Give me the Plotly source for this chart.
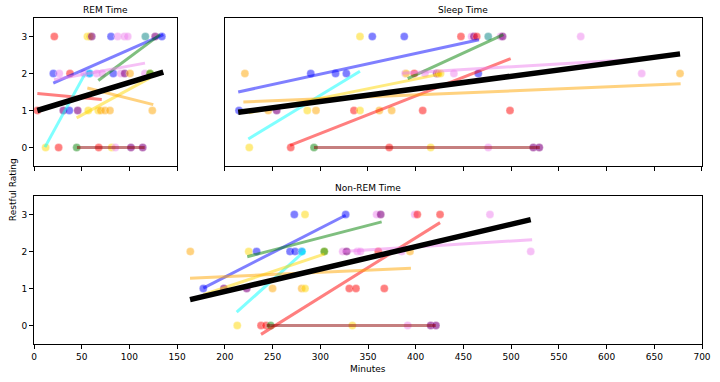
import plotly.graph_objects as go

# ---------------- data ----------------
# REM Time panel points
rem_minutes = [21.3, 56, 58.5, 60.5, 80.7, 87.7, 94.7, 98.2, 116.7, 127, 134,
               20.3, 26.5, 37.7, 52.7, 58, 58.5, 65.7, 71.4, 83.1, 91, 95, 100.6, 116.3, 121.6, 121.6,
               3.5, 30.7, 37, 45.8, 56.9, 67.4, 69.9, 74.4, 79.6, 124,
               12.2, 25.8, 44.7, 67.8, 81.4, 85.2, 101.6, 113.9]
rem_rating = [3, 3, 3, 3, 3, 3, 3, 3, 3, 3, 3,
              2, 2, 2, 2, 2, 2, 2, 2, 2, 2, 2, 2, 2, 2, 2,
              1, 1, 1, 1, 1, 1, 1, 1, 1, 1,
              0, 0, 0, 0, 0, 0, 0, 0]
rem_color = ["red", "gold", "gold", "purple", "blue", "violet", "violet", "violet", "teal", "purple", "blue",
             "blue", "violet", "red", "violet", "blue", "cyan", "violet", "violet", "blue", "violet", "purple", "orange", "violet", "gold", "green",
             "red", "purple", "blue", "purple", "gold", "gold", "orange", "orange", "orange", "orange",
             "gold", "red", "green", "red", "gold", "violet", "purple", "purple"]

# Sleep Time panel points
sleep_minutes = [341.6, 354.5, 388, 447.4, 458.6, 461, 463.9, 476, 489, 491, 572.9,
                 221, 290, 316, 327.3, 389, 390, 398.5, 409.7, 422, 423.7, 426, 440, 465.6, 636.8, 677,
                 214.8, 245.5, 254.3, 286.4, 295.5, 335.3, 341.6, 361.9, 374.8, 407.3, 498.8,
                 225.6, 269, 293.4, 372.3, 415.7, 476, 523.2, 529.5]
sleep_rating = [3, 3, 3, 3, 3, 3, 3, 3, 3, 3, 3,
                2, 2, 2, 2, 2, 2, 2, 2, 2, 2, 2, 2, 2, 2, 2,
                1, 1, 1, 1, 1, 1, 1, 1, 1, 1, 1,
                0, 0, 0, 0, 0, 0, 0, 0]
sleep_color = ["gold", "blue", "blue", "red", "violet", "purple", "red", "teal", "violet", "purple", "violet",
               "orange", "blue", "blue", "blue", "violet", "gold", "red", "violet", "purple", "orange", "gold", "violet", "blue", "violet", "orange",
               "blue", "orange", "purple", "gold", "orange", "red", "gold", "orange", "orange", "red", "red",
               "gold", "red", "green", "red", "gold", "violet", "purple", "purple"]

# Non-REM Time panel points
nrem_minutes = [272.8, 284, 326.6, 359, 363.3, 399, 401.7, 425.5, 477.8,
                163.8, 225, 233.3, 268.3, 273.5, 280.5, 281, 304.2, 304.2, 323.5, 327.6, 338.8, 342, 360.8, 385.3, 394, 520.5,
                177.4, 199, 222.9, 250, 280.5, 284, 330.4, 337.4, 367.1,
                213, 237.9, 243.1, 248, 333.6, 391.6, 415.7, 421.2]
nrem_rating = [3, 3, 3, 3, 3, 3, 3, 3, 3,
               2, 2, 2, 2, 2, 2, 2, 2, 2, 2, 2, 2, 2, 2, 2, 2, 2,
               1, 1, 1, 1, 1, 1, 1, 1, 1,
               0, 0, 0, 0, 0, 0, 0, 0]
nrem_color = ["blue", "gold", "blue", "violet", "purple", "violet", "red", "red", "violet",
              "orange", "gold", "blue", "blue", "blue", "blue", "cyan", "gold", "green", "violet", "purple", "violet", "violet", "red", "violet", "orange", "violet",
              "blue", "purple", "purple", "orange", "orange", "gold", "red", "red", "red",
              "gold", "red", "red", "green", "gold", "violet", "purple", "purple"]

# Fitted lines (endpoints)
fit_color = ["red", "blue", "cyan", "gold", "orange", "green", "violet", "darkred", "black"]
rem_fit_x0 = [3.5, 20.2, 11.5, 44.7, 55.9, 67.4, 21, 45, 3.5]
rem_fit_x1 = [71, 135.5, 53.4, 121.6, 125, 132, 116.3, 116, 135.5]
rem_fit_y0 = [1.46, 1.74, 0.01, 0.80, 1.61, 1.81, 1.83, 0, 1.0]
rem_fit_y1 = [1.30, 3.05, 1.99, 1.88, 1.16, 3.05, 2.28, 0, 2.04]

sleep_fit_x0 = [268.3, 214, 224.6, 225, 219.4, 391.6, 385.6, 293.4, 214]
sleep_fit_x1 = [499.5, 466.3, 341.6, 427, 677.6, 491.8, 637, 530, 677]
sleep_fit_y0 = [0.06, 1.50, 0.23, 0.94, 1.23, 1.86, 2.01, 0, 0.95]
sleep_fit_y1 = [2.40, 2.91, 2.06, 1.99, 1.72, 3.05, 2.39, 0, 2.53]

nrem_fit_x0 = [237.9, 177.4, 212.4, 177.4, 163.5, 223.5, 323, 243.8, 163.5]
nrem_fit_x1 = [425.5, 326.6, 284, 304.2, 395, 364.3, 522, 421, 520.5]
nrem_fit_y0 = [-0.24, 1.01, 0.36, 0.83, 1.28, 1.86, 2.0, 0, 0.70]
nrem_fit_y1 = [2.78, 2.98, 2.02, 1.93, 1.55, 2.80, 2.32, 0, 2.86]

panel_titles = ["REM Time", "Sleep Time", "Non-REM Time"]
x_ticks = [0, 50, 100, 150, 200, 250, 300, 350, 400, 450, 500, 550, 600, 650, 700]
y_ticks = [0, 1, 2, 3]

# ---------------- styling ----------------
HEX = {"red": (255, 0, 0), "blue": (0, 0, 255), "cyan": (0, 255, 255), "gold": (255, 215, 0),
       "orange": (255, 165, 0), "green": (0, 128, 0), "violet": (238, 130, 238),
       "darkred": (139, 0, 0), "purple": (128, 0, 128), "teal": (0, 128, 128), "black": (0, 0, 0)}


def rgba(name, a):
    r, g, b = HEX[name]
    return f"rgba({r},{g},{b},{a})"


FONT = "DejaVu Sans"
fig = go.Figure()

panels = [
    ("x", "y", rem_minutes, rem_rating, rem_color, rem_fit_x0, rem_fit_x1, rem_fit_y0, rem_fit_y1),
    ("x2", "y2", sleep_minutes, sleep_rating, sleep_color, sleep_fit_x0, sleep_fit_x1, sleep_fit_y0, sleep_fit_y1),
    ("x3", "y3", nrem_minutes, nrem_rating, nrem_color, nrem_fit_x0, nrem_fit_x1, nrem_fit_y0, nrem_fit_y1),
]

for xa, ya, mx, my, mc, fx0, fx1, fy0, fy1 in panels:
    fig.add_trace(go.Scatter(
        x=mx, y=my, mode="markers", xaxis=xa, yaxis=ya, showlegend=False, hoverinfo="skip",
        marker=dict(size=8, color=[rgba(c, 0.6 if c == "purple" else 0.5) for c in mc],
                    line=dict(width=0.5, color="rgba(255,255,255,0.6)"))))
    for c, a0, a1, b0, b1 in zip(fit_color, fx0, fx1, fy0, fy1):
        is_black = c == "black"
        fig.add_trace(go.Scatter(
            x=[a0, a1], y=[b0, b1], mode="lines", xaxis=xa, yaxis=ya, showlegend=False, hoverinfo="skip",
            line=dict(color=rgba(c, 1.0 if is_black else 0.5), width=5.5 if is_black else 3)))

axis_common = dict(showline=True, linecolor="black", linewidth=1, mirror=True, showgrid=False,
                   zeroline=False, ticks="outside", ticklen=4, tickcolor="black", automargin=False,
                   tickfont=dict(family=FONT, size=9, color="black"))

fig.update_layout(
    width=720, height=382, margin=dict(l=34, r=18, t=18, b=38, autoexpand=False),
    paper_bgcolor="white", plot_bgcolor="white", showlegend=False, hovermode=False,
    font=dict(family=FONT, size=9, color="black"),
    xaxis=dict(domain=[0, 150 / 700], range=[0, 150], anchor="y", tickvals=x_ticks, showticklabels=False, **axis_common),
    yaxis=dict(domain=[0.546, 1], range=[-0.5, 3.5], anchor="x", tickvals=y_ticks, **axis_common),
    xaxis2=dict(domain=[200 / 700, 1], range=[200, 700], anchor="y2", tickvals=x_ticks, showticklabels=False, **axis_common),
    yaxis2=dict(domain=[0.546, 1], range=[-0.5, 3.5], anchor="x2", tickvals=y_ticks,
                **{**axis_common, "ticks": "", "showticklabels": False}),
    xaxis3=dict(domain=[0, 1], range=[0, 700], anchor="y3", tickvals=x_ticks, **axis_common),
    yaxis3=dict(domain=[0, 0.454], range=[-0.5, 3.5], anchor="x3", tickvals=y_ticks, **axis_common),
)

title_pos = [("x domain", 0.5, 1.0), ("x2 domain", 0.5, 1.0), ("x3 domain", 0.5, 0.454)]
for t, (xr, xv, yv) in zip(panel_titles, title_pos):
    fig.add_annotation(text=t, xref=xr, x=xv, yref="paper", y=yv, yanchor="bottom", yshift=1,
                       showarrow=False, font=dict(family=FONT, size=9, color="black"))

fig.add_annotation(text="Restful Rating", xref="paper", x=-24 / 668, xshift=-4, yref="paper", y=0.472,
                   textangle=-90, showarrow=False, font=dict(family=FONT, size=9, color="black"))
fig.add_annotation(text="Minutes", xref="paper", x=0.5, yref="paper", y=0, yanchor="top", yshift=-18,
                   showarrow=False, font=dict(family=FONT, size=9, color="black"))

# remove the browser's default 8px page margin so the figure fills the window exactly
fig.write_html("out.html", config={"displayModeBar": False, "staticPlot": True},
               post_script="document.body.style.margin='0';")
